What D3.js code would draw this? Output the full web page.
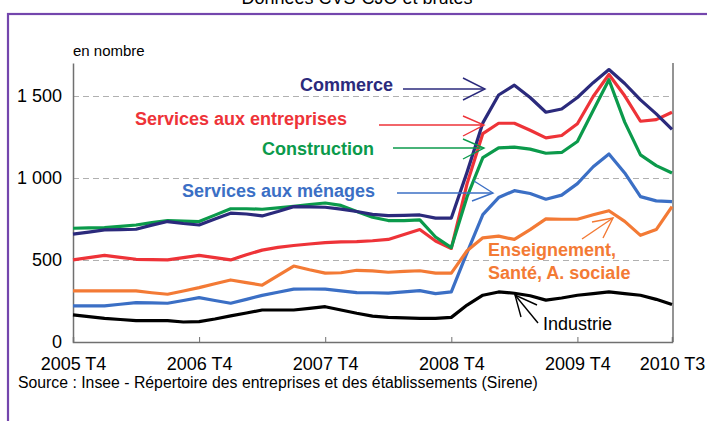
<!DOCTYPE html>
<html>
<head>
<meta charset="utf-8">
<script src="https://cdn.jsdelivr.net/npm/d3@7"></script>
<style>
body { margin: 0; background: #fff; }
svg { display: block; font-family: "Liberation Sans", Arial, sans-serif; }
</style>
</head>
<body>
<div id="chart"></div>
<script>
'use strict';

// position in quarters since 2005 T4 (half-quarter steps)
const trimestres = [0, 0.5, 1, 1.5, 2, 2.5, 3, 3.5, 4, 4.5, 5, 5.5, 6, 6.5, 7, 7.5, 8, 8.5, 9, 9.5,
    10, 10.5, 11, 11.5, 12, 12.5, 13, 13.5, 14, 14.5, 15, 15.5, 16, 16.5, 17, 17.5, 18, 18.5, 19];

const commerce = [657, 670, 683, 685, 687, 712, 734, 722, 713, 750, 785, 780, 768, 795, 825, 823, 821, 810, 795, 778,
    770, 772, 774, 755, 755, 1035, 1335, 1505, 1565, 1490, 1400, 1420, 1490, 1580, 1660, 1575, 1475, 1390, 1295];
const servicesEntreprises = [500, 514, 528, 516, 504, 502, 500, 514, 528, 514, 500, 532, 560, 577, 588, 597, 606, 610, 612, 617,
    625, 655, 685, 615, 570, 965, 1270, 1333, 1333, 1290, 1244, 1258, 1330, 1496, 1630, 1500, 1345, 1355, 1400];
const construction = [693, 695, 697, 705, 713, 727, 740, 737, 734, 773, 812, 812, 809, 817, 827, 838, 847, 832, 795, 760,
    740, 740, 744, 640, 575, 885, 1124, 1183, 1187, 1175, 1150, 1155, 1222, 1410, 1598, 1340, 1140, 1075, 1030];
const servicesMenages = [220, 220, 220, 230, 240, 238, 236, 253, 270, 253, 236, 260, 284, 303, 322, 323, 322, 312, 301, 300,
    298, 305, 313, 295, 305, 545, 776, 880, 922, 905, 870, 895, 965, 1068, 1146, 1030, 886, 860, 855];
const enseignement = [311, 311, 311, 311, 311, 300, 291, 311, 331, 355, 378, 362, 346, 405, 463, 440, 420, 422, 437, 433,
    425, 430, 434, 420, 420, 556, 635, 645, 625, 685, 750, 748, 748, 775, 800, 735, 650, 685, 825];
const industrie = [165, 155, 144, 137, 130, 130, 130, 122, 124, 140, 159, 177, 195, 195, 195, 205, 215, 195, 175, 158,
    150, 147, 144, 144, 150, 225, 285, 305, 297, 282, 255, 268, 285, 295, 305, 295, 285, 260, 228];

const etiquettesX = ["2005 T4", "2006 T4", "2007 T4", "2008 T4", "2009 T4", "2010 T3"];
const positionsX = [0, 4, 8, 12, 16, 19];
const ticksY = [0, 500, 1000, 1500];

const series = [
    { name: "Services aux ménages", values: servicesMenages, color: "#3b6fc5" },
    { name: "Enseignement", values: enseignement, color: "#f37a35" },
    { name: "Industrie", values: industrie, color: "#000000" },
    { name: "Services aux entreprises", values: servicesEntreprises, color: "#ee3338" },
    { name: "Construction", values: construction, color: "#0b9a4b" },
    { name: "Commerce", values: commerce, color: "#2b2a7c" }
];

// annotation layout (pixels)
const annotations = [
    { lines: ["Commerce"], x: 300, y: 91, color: "#2b2a7c", weight: "bold",
      shaft: [[403, 89], [485, 89]], head: [[463, 78], [485, 89], [463, 100]] },
    { lines: ["Services aux entreprises"], x: 135, y: 125, color: "#ee3338", weight: "bold",
      shaft: [[379, 125], [484, 125]], head: [[463, 116], [484, 125], [463, 136]] },
    { lines: ["Construction"], x: 262, y: 155, color: "#0b9a4b", weight: "bold",
      shaft: [[393, 148], [484, 148]], head: [[463, 139], [484, 148], [463, 159]] },
    { lines: ["Services aux ménages"], x: 182, y: 197, color: "#3b6fc5", weight: "bold",
      shaft: [[397, 193], [493, 193]], head: [[474, 181], [493, 193], [472, 201]] },
    { lines: ["Enseignement,", "Santé, A. sociale"], x: 488, y: 256, color: "#f37a35", weight: "bold",
      shaft: [[582, 239], [613, 218]], head: [[592, 222], [613, 218], [603, 238]] },
    { lines: ["Industrie"], x: 543, y: 330, color: "#000000", weight: "normal",
      shaft: [[538, 323], [515, 295]], head: [[521, 317], [515, 295], [537, 305]] }
];

const width = 707;
const height = 421;
const margin = { top: 63, right: 35, bottom: 79, left: 73 };

const xScale = d3.scaleLinear().domain([0, 19]).range([margin.left, width - margin.right]);
const yScale = d3.scaleLinear().domain([0, 1700]).range([height - margin.bottom, margin.top]);

const svg = d3.select("#chart")
    .append("svg")
    .attr("width", width)
    .attr("height", height)
    .attr("viewBox", [0, 0, width, height]);

svg.append("rect").attr("width", width).attr("height", height).attr("fill", "#fff");

// title, cut by the top of the picture
svg.append("text")
    .attr("x", 357)
    .attr("y", 4)
    .attr("text-anchor", "middle")
    .style("font-size", "18px")
    .text("Données CVS-CJO et brutes");

// purple frame
svg.append("rect")
    .attr("x", 8)
    .attr("y", 14)
    .attr("width", 760)
    .attr("height", 460)
    .attr("fill", "none")
    .attr("stroke", "#7446ad")
    .attr("stroke-width", 2.2);

svg.append("text")
    .attr("x", 73)
    .attr("y", 56)
    .style("font-size", "15px")
    .text("en nombre");

// grid
svg.append("g")
    .selectAll("line")
    .data(ticksY.filter(d => d > 0))
    .join("line")
        .attr("x1", margin.left)
        .attr("x2", width - margin.right)
        .attr("y1", d => Math.round(yScale(d)) + 0.5)
        .attr("y2", d => Math.round(yScale(d)) + 0.5)
        .attr("stroke", "#b0b0b0")
        .attr("stroke-dasharray", "6,4");

// y axis
const yAxis = g => g.attr("transform", `translate(${margin.left}, 0)`)
    .call(d3.axisLeft(yScale).tickValues(ticksY).tickSize(0).tickPadding(11)
        .tickFormat(d => d3.format(",")(d).replace(",", " ")))
    .call(g => g.select(".domain").attr("stroke", "#707070").attr("stroke-width", 1.5))
    .call(g => g.selectAll("text").style("font-size", "18px").attr("fill", "#000"));

// x axis
const xAxis = g => g.attr("transform", `translate(0, ${height - margin.bottom})`)
    .call(d3.axisBottom(xScale).tickValues(positionsX).tickSize(-5).tickPadding(15)
        .tickFormat((d, i) => etiquettesX[i]))
    .call(g => g.select(".domain").attr("stroke", "#707070").attr("stroke-width", 1.5))
    .call(g => g.selectAll(".tick line").attr("stroke", "#707070"))
    .call(g => g.selectAll("text").style("font-size", "18px").attr("fill", "#000"));

svg.append("g").call(yAxis);
svg.append("g").call(xAxis);

// right border of the plot
svg.append("line")
    .attr("x1", xScale(19) + 1)
    .attr("x2", xScale(19) + 1)
    .attr("y1", margin.top)
    .attr("y2", height - margin.bottom)
    .attr("stroke", "#707070")
    .attr("stroke-width", 1.5);

const line = d3.line()
    .x((d, i) => xScale(trimestres[i]))
    .y(d => yScale(d));

svg.append("g")
    .attr("fill", "none")
    .attr("stroke-width", 3.2)
    .attr("stroke-linejoin", "round")
    .selectAll("path")
    .data(series)
    .join("path")
        .attr("stroke", d => d.color)
        .attr("d", d => line(d.values));

// annotations
const ann = svg.append("g");
annotations.forEach(a => {
    const t = ann.append("text")
        .attr("x", a.x)
        .attr("y", a.y)
        .attr("fill", a.color)
        .style("font-size", "18px")
        .style("font-weight", a.weight);
    a.lines.forEach((l, i) => t.append("tspan")
        .attr("x", a.x)
        .attr("dy", i === 0 ? 0 : 22.5)
        .text(l));
    ann.append("path")
        .attr("d", d3.line()(a.shaft))
        .attr("fill", "none")
        .attr("stroke", a.color)
        .attr("stroke-width", 1.4);
    ann.append("path")
        .attr("d", d3.line()(a.head))
        .attr("fill", "none")
        .attr("stroke", a.color)
        .attr("stroke-width", 1.4);
});

svg.append("text")
    .attr("x", 18)
    .attr("y", 388)
    .style("font-size", "15.8px")
    .text("Source : Insee - Répertoire des entreprises et des établissements (Sirene)");
</script>
</body>
</html>
